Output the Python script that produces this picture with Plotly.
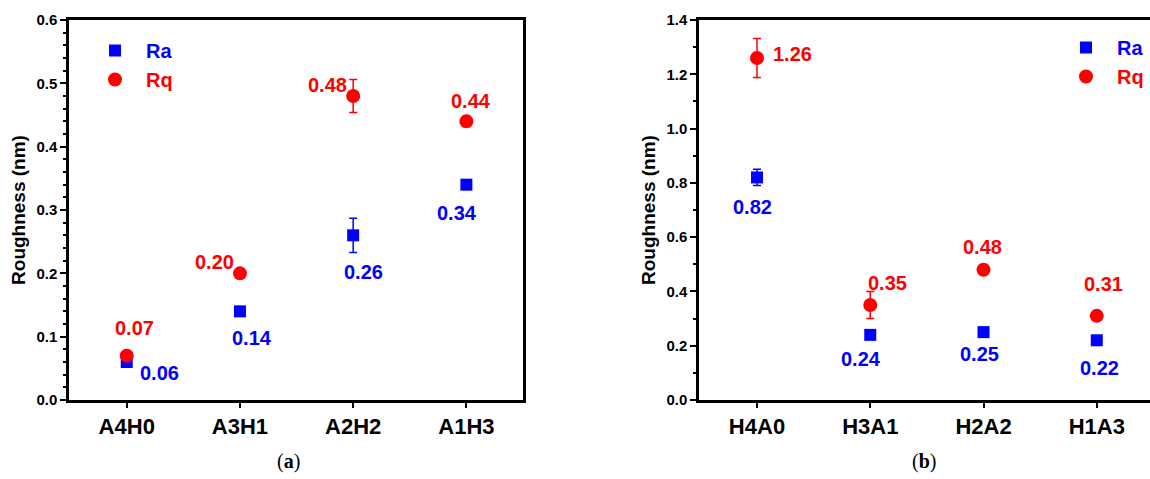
import plotly.graph_objects as go

# ---- data ----
cats_a = ["A4H0", "A3H1", "A2H2", "A1H3"]
ra_a = [0.06, 0.14, 0.26, 0.34]
ra_a_err = [0.004, 0.004, 0.027, 0.004]
rq_a = [0.07, 0.20, 0.48, 0.44]
rq_a_err = [0.004, 0.004, 0.026, 0.008]

cats_b = ["H4A0", "H3A1", "H2A2", "H1A3"]
ra_b = [0.82, 0.24, 0.25, 0.22]
ra_b_err = [0.03, 0.008, 0.008, 0.008]
rq_b = [1.26, 0.35, 0.48, 0.31]
rq_b_err = [0.072, 0.05, 0.008, 0.008]

yticks_a = [0.0, 0.1, 0.2, 0.3, 0.4, 0.5, 0.6]
yticks_b = [0.0, 0.2, 0.4, 0.6, 0.8, 1.0, 1.2, 1.4]

# label offsets (pixels) for value labels
ra_a_off = [(33, -11), (12, -27), (10, -37), (-9, -28)]
rq_a_off = [(8, 28), (-25, 11), (-26, 11), (5, 20)]
ra_b_off = [(-4, -30), (-9, -24), (-4, -22), (3, -28)]
rq_b_off = [(36, 4), (17, 22), (-1, 23), (7, 32)]

BLUE = "#0000FF"
RED = "#FF0000"
FONT = "Liberation Sans"

W, H = 1150, 479
def px(x):
    return x / W
def py(y):
    return 1 - y / H

fig = go.Figure()

def add_pair(ra, raerr, rq, rqerr, xa, ya, legend):
    xs = list(range(len(ra)))
    fig.add_trace(go.Scatter(
        x=xs, y=ra, mode="markers",
        name="<span style='color:%s'><b>&nbsp;&nbsp;Ra</b></span>" % BLUE,
        marker=dict(symbol="square", size=12, color=BLUE),
        error_y=dict(type="data", array=raerr, color=BLUE, thickness=1.5, width=4),
        xaxis=xa, yaxis=ya, legend=legend))
    fig.add_trace(go.Scatter(
        x=xs, y=rq, mode="markers",
        name="<span style='color:%s'><b>&nbsp;&nbsp;Rq</b></span>" % RED,
        marker=dict(symbol="circle", size=14, color=RED),
        error_y=dict(type="data", array=rqerr, color=RED, thickness=1.5, width=4),
        xaxis=xa, yaxis=ya, legend=legend))

add_pair(ra_a, ra_a_err, rq_a, rq_a_err, "x", "y", "legend")
add_pair(ra_b, ra_b_err, rq_b, rq_b_err, "x2", "y2", "legend2")

anns = []
def add_labels(vals, offs, color, xref, yref):
    for i, (v, (dx, dy)) in enumerate(zip(vals, offs)):
        anns.append(dict(x=i, y=v, xref=xref, yref=yref, text="<b>%.2f</b>" % v,
                         showarrow=False, xshift=dx, yshift=dy,
                         xanchor="center", yanchor="middle",
                         font=dict(family=FONT, size=20, color=color)))

add_labels(ra_a, ra_a_off, BLUE, "x", "y")
add_labels(rq_a, rq_a_off, RED, "x", "y")
add_labels(ra_b, ra_b_off, BLUE, "x2", "y2")
add_labels(rq_b, rq_b_off, RED, "x2", "y2")

anns.append(dict(x=px(288), y=py(461), xref="paper", yref="paper", text="(<b>a</b>)",
                 showarrow=False, xanchor="center", yanchor="middle",
                 font=dict(family="Liberation Serif", size=20, color="black")))
anns.append(dict(x=px(924), y=py(461), xref="paper", yref="paper", text="(<b>b</b>)",
                 showarrow=False, xanchor="center", yanchor="middle",
                 font=dict(family="Liberation Serif", size=20, color="black")))

def xaxis_cfg(dom, cats, rng, anchor):
    return dict(domain=dom, range=rng, tickmode="array", tickvals=list(range(len(cats))),
                ticktext=["<b>%s</b>" % c for c in cats], anchor=anchor,
                showline=True, linecolor="black", linewidth=2.5, mirror=True,
                ticks="outside", ticklen=5, tickwidth=2, tickcolor="black",
                showgrid=False, zeroline=False, automargin=False,
                tickfont=dict(family=FONT, size=22, color="black"))

def yaxis_cfg(dom, rng, ticks, minor_dtick, anchor):
    return dict(domain=dom, range=rng, tickmode="array", tickvals=ticks,
                ticktext=["<b>%.1f</b>" % t for t in ticks],
                showline=True, linecolor="black", linewidth=2.5, mirror=True,
                ticks="outside", ticklen=6, tickwidth=2, tickcolor="black",
                minor=dict(tickmode="linear", tick0=0, dtick=minor_dtick, ticks="outside",
                           ticklen=3, tickwidth=1.5, tickcolor="black", showgrid=False),
                showgrid=False, zeroline=False, anchor=anchor, automargin=False,
                title=dict(text="<b>Roughness (nm)</b>", standoff=6,
                           font=dict(family=FONT, size=19, color="black")),
                tickfont=dict(family=FONT, size=15, color="black"))

ydom = [py(400), py(20)]
fig.update_layout(
    width=W, height=H,
    margin=dict(l=0, r=0, t=0, b=0, autoexpand=False),
    paper_bgcolor="white", plot_bgcolor="white",
    font=dict(family=FONT),
    xaxis=xaxis_cfg([px(69), px(523)], cats_a, [-0.51, 3.5], "y"),
    yaxis=yaxis_cfg(ydom, [0, 0.6], yticks_a, 0.02, "x"),
    xaxis2=xaxis_cfg([px(699), 1.0], cats_b, [-0.512, 3.47], "y2"),
    yaxis2=yaxis_cfg(ydom, [0, 1.4], yticks_b, 0.1, "x2"),
    legend=dict(x=px(95), y=py(31), xanchor="left", yanchor="top",
                bgcolor="rgba(0,0,0,0)", font=dict(family=FONT, size=20, color=RED),
                tracegroupgap=0, itemwidth=30),
    legend2=dict(x=px(1066), y=py(28), xanchor="left", yanchor="top",
                 bgcolor="rgba(0,0,0,0)", font=dict(family=FONT, size=20, color=RED),
                 tracegroupgap=0, itemwidth=30),
    annotations=anns,
    showlegend=True,
)

fig.write_html("out.html", config={"displayModeBar": False},
               post_script="document.body.style.margin='0';document.body.style.padding='0';")
